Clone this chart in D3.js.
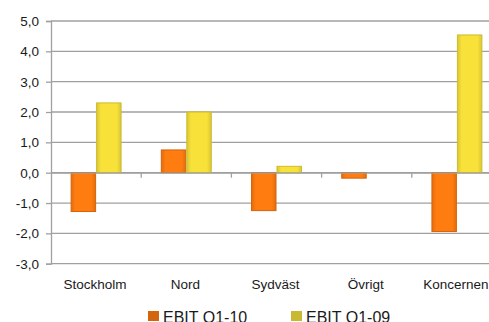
<!DOCTYPE html>
<html><head><meta charset="utf-8">
<script src="https://cdn.jsdelivr.net/npm/d3@7"></script>
<style>body{margin:0;background:#fff}svg{display:block}</style>
</head><body>
<svg id="c" width="489" height="322"></svg>
<script>
const categories = ["Stockholm", "Nord", "Sydväst", "Övrigt", "Koncernen"];
const seriesNames = ["EBIT Q1-10", "EBIT Q1-09"];
const ebitQ110 = [-1.28, 0.75, -1.25, -0.18, -1.94];
const ebitQ109 = [2.3, 2.0, 0.21, 0, 4.54];
const yTicks = [-3, -2, -1, 0, 1, 2, 3, 4, 5];

(function () {
const svg = d3.select("#c");
const pLeft = 51, pRight = 502, pTop = 21, pBottom = 263.7;
const font = "Liberation Sans, Arial, sans-serif";

const defs = svg.append("defs");
function grad(id, edge, mid) {
  const g = defs.append("linearGradient").attr("id", id).attr("x1", "0").attr("x2", "1").attr("y1", "0").attr("y2", "0");
  g.append("stop").attr("offset", "0").attr("stop-color", edge);
  g.append("stop").attr("offset", "0.18").attr("stop-color", mid);
  g.append("stop").attr("offset", "0.82").attr("stop-color", mid);
  g.append("stop").attr("offset", "1").attr("stop-color", edge);
}
grad("gO", "#e56c0a", "#ff7d10");
grad("gY", "#d9c634", "#f8e23a");
const fills = ["url(#gO)", "url(#gY)"];
const strokes = ["#d4640c", "#cdbb30"];
const legendFills = ["#d2650e", "#c9b932"];

const x0 = d3.scaleBand().domain(categories).range([pLeft, pRight]).padding(0);
const x1 = d3.scaleBand().domain(seriesNames).range([0, x0.bandwidth()]).paddingInner(0).paddingOuter(0.77);
const y = d3.scaleLinear().domain([-3, 5]).range([pBottom, pTop]);

// gridlines
svg.append("g").selectAll("line").data(yTicks).join("line")
  .attr("x1", pLeft).attr("x2", pRight)
  .attr("y1", d => y(d)).attr("y2", d => y(d))
  .attr("stroke", "#a0a0a0").attr("stroke-width", 1.3);

// y axis
const yAxis = d3.axisLeft(y).tickValues(yTicks).tickSize(5).tickPadding(7)
  .tickFormat(d => d3.format(".1f")(d).replace(".", ",").replace("−", "-"));
const gy = svg.append("g").attr("transform", `translate(${pLeft},0)`).call(yAxis);
gy.select(".domain").attr("stroke", "#a0a0a0").attr("stroke-width", 1.3);
gy.selectAll(".tick line").attr("stroke", "#a0a0a0").attr("stroke-width", 1.3);
gy.selectAll("text").attr("font-family", font).attr("font-size", 13.5).attr("fill", "#1a1a1a");

// bars
const data = categories.map((c, i) => ({c, vals: [ebitQ110[i], ebitQ109[i]]}));
const gBars = svg.append("g");
data.forEach(d => {
  d.vals.forEach((v, si) => {
    if (v === 0) return;
    const xx = x0(d.c) + x1(seriesNames[si]);
    gBars.append("rect")
      .attr("x", xx + 0.5).attr("width", x1.bandwidth() - 1)
      .attr("y", Math.min(y(v), y(0)))
      .attr("height", Math.abs(y(v) - y(0)))
      .attr("fill", fills[si]).attr("stroke", strokes[si]).attr("stroke-width", 1);
  });
});

// category axis at zero
const xAxis = d3.axisBottom(x0).tickSize(0).tickFormat("");
const gx = svg.append("g").attr("transform", `translate(0,${y(0)})`).call(xAxis);
gx.select(".domain").attr("stroke", "#a0a0a0").attr("stroke-width", 1.3);
svg.append("g").selectAll("line").data(categories.slice(1)).join("line")
  .attr("x1", d => x0(d)).attr("x2", d => x0(d))
  .attr("y1", y(0)).attr("y2", y(0) + 5)
  .attr("stroke", "#a0a0a0").attr("stroke-width", 1.3);

// category labels
svg.append("g").selectAll("text").data(categories).join("text")
  .attr("x", d => x0(d) + x0.bandwidth() / 2 - 1)
  .attr("y", 289)
  .attr("text-anchor", "middle")
  .attr("font-family", font).attr("font-size", 13.5).attr("fill", "#1a1a1a")
  .text(d => d);

// legend
const legX = [148, 291];
seriesNames.forEach((s, i) => {
  svg.append("rect").attr("x", legX[i]).attr("y", 311).attr("width", 11).attr("height", 10)
    .attr("fill", legendFills[i]);
  svg.append("text").attr("x", legX[i] + 15).attr("y", 322.5)
    .attr("font-family", font).attr("font-size", 16).attr("fill", "#1a1a1a")
    .text(s);
});
})();
</script>
</body></html>
